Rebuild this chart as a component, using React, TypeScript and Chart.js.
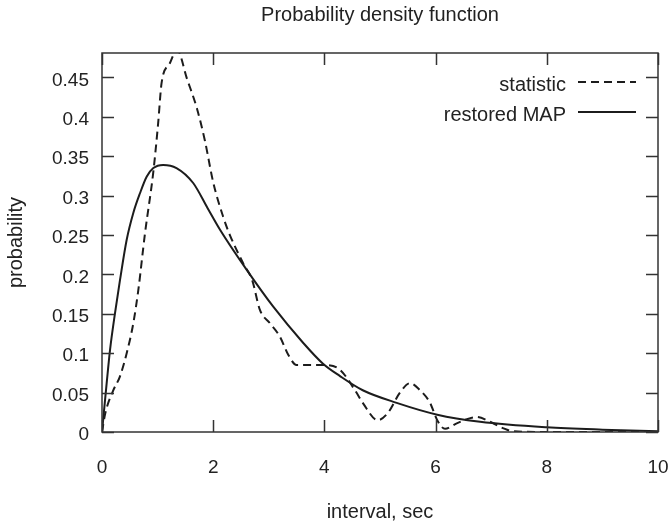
import { useEffect, useRef } from "react";
import { Chart, registerables } from "chart.js";

Chart.register(...registerables);

const TITLE = "Probability density function";
const X_TITLE = "interval, sec";
const Y_TITLE = "probability";
const STAT_LABEL = "statistic";
const MAP_LABEL = "restored MAP";

const statX = [0, 0.06, 0.204, 0.32, 0.444, 0.563, 0.653, 0.773, 0.923, 1.01, 1.07, 1.22, 1.35, 1.53, 1.71, 1.85, 2.0, 2.18, 2.3, 2.54, 2.7, 2.84, 3.02, 3.2, 3.35, 3.5, 4.0, 4.28, 4.55, 4.69, 4.96, 5.14, 5.36, 5.54, 5.72, 5.9, 6.03, 6.17, 6.38, 6.74, 6.98, 7.21, 7.39, 8, 9, 10];
const statY = [0, 0.024, 0.053, 0.07, 0.1, 0.138, 0.18, 0.252, 0.33, 0.392, 0.442, 0.468, 0.485, 0.448, 0.41, 0.37, 0.317, 0.273, 0.25, 0.214, 0.193, 0.155, 0.138, 0.121, 0.098, 0.085, 0.085, 0.079, 0.053, 0.037, 0.015, 0.024, 0.05, 0.062, 0.053, 0.037, 0.015, 0.004, 0.011, 0.019, 0.013, 0.005, 0.001, 0, 0, 0];

const mapX = [0, 0.084, 0.144, 0.234, 0.324, 0.444, 0.563, 0.683, 0.803, 0.923, 1.1, 1.34, 1.64, 1.9, 2.12, 2.6, 3.08, 3.62, 3.97, 4.28, 4.69, 5.3, 6.03, 6.8, 8.0, 9.0, 10];
const mapY = [0, 0.062, 0.104, 0.151, 0.193, 0.244, 0.278, 0.303, 0.324, 0.335, 0.339, 0.335, 0.316, 0.284, 0.257, 0.206, 0.159, 0.113, 0.087, 0.071, 0.053, 0.037, 0.022, 0.013, 0.006, 0.003, 0.001];

const X_MIN = 0;
const X_MAX = 10;
const X_STEP = 2;
const Y_MIN = 0;
const Y_MAX = 0.481;
const Y_STEP = 0.05;

const FONT = "'Liberation Sans', Arial, Helvetica, sans-serif";
const INK = "#222";
const LINE = "#1c1c1c";

const gnuplotPlugin = {
  id: "gnuplotFrame",
  afterDraw(chart: any) {
    const ctx = chart.ctx;
    const { left, right, top, bottom } = chart.chartArea;
    const xs = chart.scales.x;
    const ys = chart.scales.y;
    const opts = chart.options.plugins.gnuplotFrame;
    ctx.save();
    ctx.strokeStyle = "#333";
    ctx.lineWidth = 1.5;
    const tl = 12;
    ctx.beginPath();
    xs.ticks.forEach((t: any) => {
      const px = Math.round(xs.getPixelForValue(t.value)) + 0.5;
      ctx.moveTo(px, bottom);
      ctx.lineTo(px, bottom - tl);
      ctx.moveTo(px, top);
      ctx.lineTo(px, top + tl);
    });
    ys.ticks.forEach((t: any) => {
      const py = Math.round(ys.getPixelForValue(t.value)) + 0.5;
      ctx.moveTo(left, py);
      ctx.lineTo(left + tl, py);
      ctx.moveTo(right, py);
      ctx.lineTo(right - tl, py);
    });
    ctx.stroke();
    ctx.strokeRect(left, top, right - left, bottom - top);

    ctx.fillStyle = INK;
    ctx.font = `20px ${FONT}`;
    ctx.textAlign = "center";
    ctx.textBaseline = "alphabetic";
    const cx = (left + right) / 2;
    ctx.fillText(opts.title, cx, 21);
    ctx.fillText(opts.xTitle, cx, 518);
    ctx.save();
    ctx.translate(22, (top + bottom) / 2);
    ctx.rotate(-Math.PI / 2);
    ctx.fillText(opts.yTitle, 0, 0);
    ctx.restore();

    ctx.textAlign = "right";
    ctx.textBaseline = "middle";
    chart.data.datasets.forEach((ds: any, i: number) => {
      const y = 85 + i * 30;
      ctx.fillStyle = INK;
      ctx.fillText(ds.label, 566, y);
      ctx.strokeStyle = ds.borderColor;
      ctx.lineWidth = ds.borderWidth;
      ctx.setLineDash(ds.borderDash || []);
      ctx.beginPath();
      ctx.moveTo(578, y - 3);
      ctx.lineTo(636, y - 3);
      ctx.stroke();
      ctx.setLineDash([]);
    });
    ctx.restore();
  },
};

export default function App() {
  const ref = useRef<HTMLCanvasElement | null>(null);

  useEffect(() => {
    document.body.style.margin = "0";
    const canvas = ref.current;
    if (!canvas) return;
    const chart = new Chart(canvas, {
      type: "line",
      data: {
        datasets: [
          {
            label: STAT_LABEL,
            data: statX.map((x, i) => ({ x, y: statY[i] })),
            borderColor: LINE,
            borderWidth: 2,
            borderDash: [8, 5],
            pointRadius: 0,
            cubicInterpolationMode: "monotone",
            fill: false,
          },
          {
            label: MAP_LABEL,
            data: mapX.map((x, i) => ({ x, y: mapY[i] })),
            borderColor: LINE,
            borderWidth: 2,
            pointRadius: 0,
            cubicInterpolationMode: "monotone",
            fill: false,
          },
        ],
      },
      options: {
        animation: false,
        responsive: false,
        devicePixelRatio: 1,
        layout: { padding: { top: 53, right: 12, left: 0, bottom: 0 } },
        plugins: {
          legend: { display: false },
          tooltip: { enabled: false },
          title: { display: false },
          gnuplotFrame: { title: TITLE, xTitle: X_TITLE, yTitle: Y_TITLE },
        } as any,
        scales: {
          x: {
            type: "linear",
            min: X_MIN,
            max: X_MAX,
            border: { display: false },
            grid: { display: false, drawTicks: false },
            ticks: {
              stepSize: X_STEP,
              padding: 24,
              color: INK,
              font: { family: FONT, size: 19 },
              maxRotation: 0,
            },
            afterFit: (s: any) => {
              s.height = 92;
              s.paddingLeft = 0;
              s.paddingRight = 0;
            },
          },
          y: {
            type: "linear",
            min: Y_MIN,
            max: Y_MAX,
            border: { display: false },
            grid: { display: false, drawTicks: false },
            ticks: {
              stepSize: Y_STEP,
              includeBounds: false,
              padding: 13,
              labelOffset: 3,
              color: INK,
              font: { family: FONT, size: 19 },
              callback: (v: any) => String(Number(Number(v).toFixed(2))),
            },
            afterFit: (s: any) => {
              s.width = 102;
              s.paddingTop = 0;
              s.paddingBottom = 0;
            },
          },
        },
      },
      plugins: [gnuplotPlugin],
    });
    return () => chart.destroy();
  }, []);

  return (
    <div style={{ width: 670, height: 524, background: "#fff" }}>
      <canvas ref={ref} width={670} height={524} />
    </div>
  );
}
